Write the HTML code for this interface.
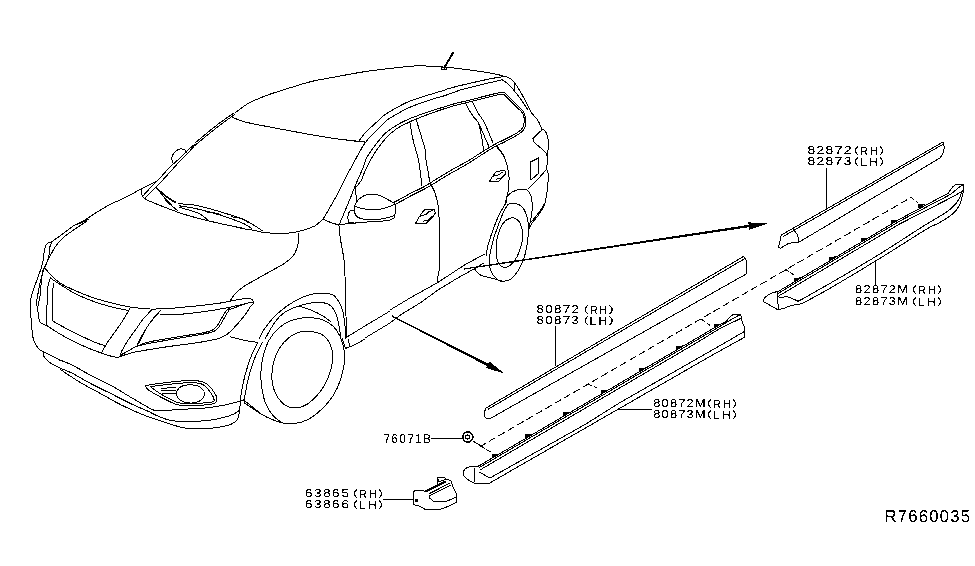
<!DOCTYPE html>
<html><head><meta charset="utf-8"><title>Body side moulding diagram</title>
<style>
html,body{margin:0;padding:0;background:#fff;}
body{width:975px;height:566px;overflow:hidden;position:relative;font-family:"Liberation Sans","DejaVu Sans",sans-serif;}
svg{position:absolute;left:0;top:0;display:block;}
svg path{fill:none;stroke:#000;stroke-width:1.0;stroke-linecap:round;stroke-linejoin:round;shape-rendering:crispEdges;}

</style></head><body>
<svg width="975" height="566" viewBox="0 0 975 566">
<path d="M235.0 113.0C237.2 111.4 243.0 106.4 248.0 103.6C253.0 100.8 258.8 98.4 265.0 96.0C271.2 93.6 277.3 91.8 285.0 89.4C292.7 87.0 302.7 83.7 311.0 81.6C319.3 79.5 326.0 78.7 335.0 77.0C344.0 75.3 355.8 73.0 365.0 71.6C374.2 70.2 385.8 68.9 390.0 68.4"/>
<path d="M390.0 68.4C394.0 68.0 407.3 66.4 414.0 66.0C420.7 65.6 424.0 65.9 430.0 66.2C436.0 66.5 443.3 67.0 450.0 67.6C456.7 68.2 463.3 69.1 470.0 70.0C476.7 70.9 484.7 72.1 490.0 73.0C495.3 73.9 498.7 74.7 502.0 75.6C505.3 76.5 508.1 77.4 510.0 78.4C511.9 79.4 511.9 79.5 513.6 81.6C515.3 83.7 517.8 87.3 520.0 91.0C522.2 94.7 525.1 100.3 527.0 104.0C528.9 107.7 530.8 111.5 531.6 113.0"/>
<path d="M502.0 79.6C503.0 80.3 506.0 82.2 508.0 84.0C510.0 85.8 511.7 87.6 514.0 90.4C516.3 93.2 519.7 97.7 522.0 101.0C524.3 104.3 527.0 108.5 528.0 110.0"/>
<path d="M514.0 82.0L514.6 90.0"/>
<path d="M444.4 67.6L453.0 52.8" style="stroke-width:2"/>
<path d="M441.6 67.6L446.4 67.6L446.4 69.6L441.6 69.6Z"/>
<path d="M445.0 89.6C447.5 88.9 454.2 87.0 460.0 85.6C465.8 84.2 473.7 82.4 480.0 81.0C486.3 79.6 493.8 78.1 498.0 77.4C502.2 76.7 503.8 76.7 505.0 76.6"/>
<path d="M460.0 90.0C461.7 89.6 465.0 88.6 470.0 87.4C475.0 86.2 484.5 83.9 490.0 82.6C495.5 81.3 500.8 80.1 503.0 79.6"/>
<path d="M359.2 140.7C360.1 139.5 362.0 136.3 364.7 133.3C367.5 130.3 372.4 126.0 375.9 122.8C379.4 119.6 380.6 117.5 385.8 114.1C390.9 110.7 400.0 105.5 406.8 102.4C413.6 99.3 420.2 97.6 426.6 95.6C433.0 93.5 442.1 90.9 445.2 90.0"/>
<path d="M340.0 139.2C342.3 139.5 349.4 140.5 353.6 141.0C357.8 141.4 363.4 141.8 365.4 142.0"/>
<path d="M409.9 122.4C410.4 125.3 411.5 133.2 413.0 139.5C414.4 145.7 417.6 156.5 418.6 159.9"/>
<path d="M416.1 119.4C416.8 121.8 418.9 128.1 420.4 133.3C422.0 138.5 424.4 146.2 425.4 150.6C426.3 155.1 425.9 158.4 426.0 159.9"/>
<path d="M74.0 225.4C75.7 224.6 80.7 222.5 84.0 220.6C87.3 218.7 90.7 216.1 94.0 214.0C97.3 211.9 101.0 209.8 104.0 208.0C107.0 206.2 109.3 204.7 112.0 203.4C114.7 202.1 117.0 201.4 120.0 200.0C123.0 198.6 126.5 196.8 130.0 195.0C133.5 193.2 137.7 190.7 141.0 189.0C144.3 187.3 147.2 186.0 150.0 184.6C152.8 183.2 156.7 181.3 158.0 180.6"/>
<path d="M75.6 224.6C76.7 224.3 79.8 223.5 82.0 222.6C84.2 221.7 87.8 219.6 89.0 219.0"/>
<path d="M142.4 196.6C144.0 194.8 149.1 189.1 152.0 186.0C154.9 182.9 157.0 181.2 160.0 178.0C163.0 174.8 166.7 170.3 170.0 167.0C173.3 163.7 177.0 160.8 180.0 158.0C183.0 155.2 185.5 152.3 188.0 150.0C190.5 147.7 193.8 145.0 195.0 144.0"/>
<path d="M144.8 198.6C146.5 196.8 151.8 191.1 154.8 188.0C157.8 184.9 159.8 183.2 162.8 180.0C165.8 176.8 169.8 172.3 172.8 169.0C175.8 165.7 178.1 162.8 180.8 160.0C183.5 157.2 186.6 154.2 188.8 152.0C191.0 149.8 193.0 147.5 193.8 146.6"/>
<path d="M172.4 163.0C172.3 162.0 171.6 158.8 172.0 157.0C172.4 155.2 173.7 153.3 175.0 152.0C176.3 150.7 178.3 149.3 180.0 149.0C181.7 148.7 183.9 149.3 185.0 150.0C186.1 150.7 186.2 152.5 186.4 153.0"/>
<path d="M195.0 143.0C197.0 141.3 202.7 136.5 207.0 133.0C211.3 129.5 216.5 125.3 221.0 122.0C225.5 118.7 231.8 114.5 234.0 113.0"/>
<path d="M194.0 146.2C196.3 144.3 203.3 138.4 208.0 134.6C212.7 130.8 217.8 126.7 222.2 123.4C226.6 120.1 232.5 116.1 234.6 114.6"/>
<path d="M232.0 117.0C234.2 117.8 237.8 120.2 245.0 122.0C252.2 123.8 265.0 126.1 275.0 128.0C285.0 129.9 295.0 131.8 305.0 133.6C315.0 135.4 325.8 137.3 335.0 138.6C344.2 139.9 355.8 140.9 360.0 141.4"/>
<path d="M365.0 142.6C364.0 144.3 361.0 149.4 359.0 153.0C357.0 156.6 355.3 159.7 353.0 164.0C350.7 168.3 347.7 173.8 345.0 179.0C342.3 184.2 339.7 190.0 337.0 195.0C334.3 200.0 331.3 205.0 329.0 209.0C326.7 213.0 325.3 216.2 323.0 219.0C320.7 221.8 316.3 224.8 315.0 226.0"/>
<path d="M355.0 186.0C354.2 188.2 351.7 194.8 350.0 199.0C348.3 203.2 346.8 206.7 345.0 211.0C343.2 215.3 340.0 222.7 339.0 225.0"/>
<path d="M323.0 219.0C324.3 219.6 328.3 221.6 331.0 222.6C333.7 223.6 337.7 224.6 339.0 225.0"/>
<path d="M495.9 145.1C496.8 146.2 499.5 149.1 501.0 151.3C502.6 153.4 504.4 156.8 505.1 157.9"/>
<path d="M531.6 113.0C532.6 114.3 536.2 117.7 537.9 120.5C539.7 123.3 541.4 128.2 542.1 129.7"/>
<path d="M542.1 129.7L532.8 138.5L533.8 142.1L541.0 148.2L546.7 153.8"/>
<path d="M542.1 129.7C542.6 129.9 544.3 129.7 545.1 130.8C546.0 131.8 546.6 133.7 547.2 135.9C547.8 138.1 548.7 141.2 548.7 144.1C548.8 147.0 547.7 151.0 547.4 153.3C547.1 155.6 547.0 157.2 547.0 157.9"/>
<path d="M418.6 160.0C418.9 162.2 419.8 168.7 420.4 173.0C421.0 177.3 421.7 183.8 422.0 186.0"/>
<path d="M426.0 160.0C426.3 161.8 427.3 167.3 428.0 171.0C428.7 174.7 428.8 178.3 430.0 182.0C431.2 185.7 433.7 189.2 435.0 193.0C436.3 196.8 437.3 201.0 438.0 205.0C438.7 209.0 438.7 213.5 439.0 217.0C439.3 220.5 439.5 224.5 439.6 226.0"/>
<path d="M496.0 146.0C497.2 147.5 501.2 151.8 503.0 155.0C504.8 158.2 506.0 161.3 507.0 165.0C508.0 168.7 508.8 173.0 509.0 177.0C509.2 181.0 508.7 185.7 508.4 189.0C508.1 192.3 507.6 194.7 507.0 197.0C506.4 199.3 505.3 202.0 505.0 203.0"/>
<path d="M530.6 162.0L538.4 158.0L539.0 173.0L531.0 180.0Z"/>
<path d="M546.4 153.0C546.7 154.3 548.0 158.7 548.0 161.0C548.0 163.3 546.4 165.0 546.4 167.0C546.4 169.0 547.7 171.7 548.0 173.0C548.3 174.3 548.3 174.7 548.4 175.0"/>
<path d="M546.0 170.0C544.7 171.5 541.0 175.8 538.0 179.0C535.0 182.2 529.7 187.3 528.0 189.0"/>
<path d="M44.0 267.0C45.0 268.2 47.3 271.3 50.0 274.0C52.7 276.7 55.7 280.2 60.0 283.0C64.3 285.8 70.3 288.5 76.0 291.0C81.7 293.5 88.0 296.0 94.0 298.0C100.0 300.0 106.0 301.5 112.0 303.0C118.0 304.5 123.7 306.0 130.0 307.0C136.3 308.0 143.3 308.8 150.0 309.0C156.7 309.2 162.5 308.9 170.0 308.4C177.5 307.9 190.8 306.4 195.0 306.0"/>
<path d="M51.0 278.4C52.5 279.4 55.8 281.8 60.0 284.4C64.2 287.0 70.3 291.1 76.0 294.0C81.7 296.9 88.0 299.4 94.0 301.6C100.0 303.8 106.3 305.5 112.0 307.0C117.7 308.5 125.3 309.8 128.0 310.4"/>
<path d="M50.4 277.6C50.0 279.0 48.5 283.9 48.0 286.0C47.5 288.1 47.8 286.8 47.6 290.0C47.4 293.2 47.2 299.5 47.0 305.4C46.8 311.3 46.5 322.1 46.4 325.4"/>
<path d="M54.0 283.0C53.8 284.2 53.0 286.3 52.8 290.0C52.6 293.7 52.7 300.3 52.6 305.4C52.5 310.5 52.4 318.2 52.4 320.8"/>
<path d="M32.0 330.0C32.1 331.0 32.1 333.8 32.6 336.2C33.2 338.5 34.3 341.7 35.4 343.8C36.5 346.0 37.9 347.9 39.2 349.2C40.5 350.5 42.4 351.2 43.1 351.5"/>
<path d="M46.5 325.4C48.5 326.7 53.9 330.4 58.5 333.1C63.0 335.8 68.7 339.0 73.8 341.5C79.0 344.1 84.6 346.5 89.2 348.5C93.8 350.4 97.7 351.7 101.5 353.1C105.4 354.4 109.5 355.8 112.3 356.5C115.1 357.2 116.9 357.5 118.5 357.2C120.0 356.9 121.0 355.1 121.5 354.6"/>
<path d="M52.3 320.8C54.6 322.1 61.3 325.9 66.2 328.5C71.0 331.0 76.4 333.7 81.5 336.2C86.7 338.6 92.9 341.5 96.9 343.1C100.9 344.7 104.0 345.3 105.4 345.7"/>
<path d="M130.0 308.2C129.1 309.7 126.5 314.6 124.6 317.7C122.7 320.8 120.8 323.6 118.5 326.9C116.2 330.3 112.9 334.6 110.8 337.7C108.6 340.8 106.9 343.1 105.4 345.7C103.8 348.3 102.2 351.8 101.5 353.1"/>
<path d="M152.3 309.2C150.8 310.9 145.9 315.8 143.1 319.2C140.3 322.7 137.9 326.4 135.4 330.0C132.8 333.6 130.0 337.2 127.7 340.8C125.4 344.4 122.8 348.8 121.5 351.5C120.3 354.2 120.3 356.0 120.0 356.9"/>
<path d="M160.8 310.0C159.6 311.3 156.3 314.6 153.8 317.7C151.4 320.8 148.5 324.9 146.2 328.5C143.8 332.1 141.5 336.3 140.0 339.2C138.5 342.2 137.4 345.0 136.9 346.2"/>
<path d="M158.5 313.1C156.9 314.9 151.8 320.3 149.2 323.8C146.7 327.4 144.9 331.3 143.1 334.6C141.3 337.9 139.2 342.3 138.5 343.8"/>
<path d="M121.5 354.6C123.6 353.5 131.3 349.1 133.8 347.7C136.4 346.3 136.4 346.4 136.9 346.2"/>
<path d="M43.1 351.5C44.4 352.2 48.0 354.0 50.8 355.4C53.5 356.8 58.1 359.2 59.5 360.0"/>
<path d="M43.1 351.5C43.2 352.3 43.1 354.6 43.8 356.2C44.6 357.7 46.2 359.4 47.7 360.8C49.2 362.2 51.1 363.5 53.1 364.6C55.1 365.8 58.5 367.2 59.5 367.7"/>
<path d="M60.0 360.0C62.1 360.9 67.2 362.6 72.3 365.1C77.4 367.7 84.3 372.0 90.8 375.4C97.3 378.8 104.4 381.9 111.3 385.6C118.1 389.4 126.0 394.5 131.8 397.9C137.6 401.4 142.4 404.1 146.2 406.2C149.9 408.2 150.9 409.6 154.4 410.3C157.8 410.9 161.9 410.4 166.7 410.3C171.5 410.1 176.9 409.6 183.1 409.2C189.2 408.9 196.8 408.9 203.6 408.2C210.4 407.5 218.6 406.2 224.1 405.1C229.6 404.1 233.3 402.9 236.4 402.1C239.5 401.2 241.5 400.3 242.6 400.0"/>
<path d="M60.0 368.2C62.1 369.1 67.2 370.8 72.3 373.3C77.4 375.9 84.3 380.2 90.8 383.6C97.3 387.0 104.4 390.4 111.3 393.8C118.1 397.3 125.6 401.2 131.8 404.1C137.9 407.0 144.1 409.4 148.2 411.3C152.3 413.2 152.6 413.8 156.4 415.4C160.2 416.9 165.6 419.5 170.8 420.5C175.9 421.5 181.0 421.5 187.2 421.5C193.3 421.5 201.5 421.2 207.7 420.5C213.8 419.8 219.7 418.6 224.1 417.4C228.5 416.3 231.8 414.9 234.4 413.7C236.9 412.5 238.6 410.8 239.5 410.3"/>
<path d="M60.0 369.2C63.4 371.5 73.7 378.5 80.5 382.6C87.4 386.7 94.2 390.1 101.0 393.8C107.9 397.6 114.7 401.7 121.5 405.1C128.4 408.5 135.2 411.6 142.1 414.4C148.9 417.1 155.7 419.3 162.6 421.5C169.4 423.8 176.9 426.5 183.1 427.7C189.2 428.9 194.0 428.7 199.5 428.7C205.0 428.7 210.8 428.4 215.9 427.7C221.0 427.0 226.7 426.0 230.3 424.6C233.8 423.2 235.9 421.7 237.4 419.5C239.0 417.3 239.0 414.4 239.5 411.3C240.0 408.2 240.3 402.7 240.5 401.0"/>
<path d="M145.1 385.6C148.0 385.2 156.2 383.8 162.6 383.0C168.9 382.2 176.9 381.2 183.1 380.9C189.2 380.6 195.4 380.5 199.5 381.1C203.6 381.7 205.3 382.8 207.7 384.6C210.1 386.4 212.3 389.6 213.8 391.8C215.4 394.0 216.6 396.2 216.9 397.9C217.3 399.7 216.8 401.0 215.9 402.1C215.0 403.1 215.6 403.5 211.8 404.1C208.0 404.7 198.8 405.4 193.3 405.5C187.9 405.7 182.7 405.7 179.0 405.1C175.2 404.5 174.2 403.6 170.8 402.1C167.4 400.5 162.2 397.9 158.5 395.9C154.7 393.8 150.4 391.5 148.2 389.7C146.0 388.0 145.6 386.3 145.1 385.6Z"/>
<path d="M150.3 386.7C153.0 386.3 161.2 385.2 166.7 384.6C172.1 384.0 177.9 383.2 183.1 383.0C188.2 382.7 193.8 382.5 197.4 383.0C201.0 383.4 202.4 384.0 204.6 385.6C206.8 387.3 209.2 390.7 210.8 392.8C212.3 395.0 213.7 397.0 213.8 398.6C214.0 400.1 215.2 401.2 211.8 402.1C208.4 402.9 198.6 403.3 193.3 403.5C188.0 403.7 183.4 403.6 180.0 403.1C176.6 402.6 176.1 402.2 172.8 400.6C169.6 399.1 164.3 396.2 160.5 393.8C156.8 391.5 152.0 387.9 150.3 386.7Z"/>
<path d="M190.3 384.6C191.8 385.0 197.1 385.1 199.5 386.7C201.9 388.2 204.6 391.5 204.6 393.8C204.6 396.2 201.9 399.5 199.5 401.0C197.1 402.6 193.3 403.1 190.3 403.1C187.2 403.0 183.3 402.2 181.0 400.6C178.7 399.1 176.5 396.2 176.5 393.8C176.5 391.5 178.7 388.2 181.0 386.7C183.3 385.1 188.7 385.0 190.3 384.6Z"/>
<path d="M161.5 388.3L175.9 387.5"/>
<path d="M161.5 390.8L175.9 390.4"/>
<path d="M162.6 393.2L176.5 393.2"/>
<path d="M243.6 400.0C245.1 401.2 250.1 405.0 252.8 407.2C255.6 409.4 258.8 412.3 260.0 413.3"/>
<path d="M232.0 226.0C234.2 226.5 241.2 228.3 245.0 229.0C248.8 229.7 252.3 229.9 255.0 230.4C257.7 230.9 257.7 231.5 261.0 232.0C264.3 232.5 270.3 233.2 275.0 233.4C279.7 233.6 284.3 233.5 289.0 233.0C293.7 232.5 298.7 231.6 303.0 230.4C307.3 229.2 313.0 226.7 315.0 226.0"/>
<path d="M298.0 233.0C298.1 234.2 298.8 237.5 298.6 240.0C298.4 242.5 297.9 245.3 297.0 248.0C296.1 250.7 295.0 253.5 293.0 256.0C291.0 258.5 288.7 260.5 285.0 263.0C281.3 265.5 276.0 268.2 271.0 271.0C266.0 273.8 259.7 277.3 255.0 280.0C250.3 282.7 246.3 284.7 243.0 287.0C239.7 289.3 237.2 291.7 235.0 294.0C232.8 296.3 230.8 299.8 230.0 301.0"/>
<path d="M339.4 226.0C339.5 227.7 339.6 232.3 340.0 236.0C340.4 239.7 341.3 244.0 342.0 248.0C342.7 252.0 343.5 255.3 344.0 260.0C344.5 264.7 344.8 270.0 345.0 276.0C345.2 282.0 345.2 289.3 345.4 296.0C345.6 302.7 345.8 309.0 346.0 316.0C346.2 323.0 346.5 334.3 346.6 338.0"/>
<path d="M259.0 339.0C260.0 337.2 262.3 331.8 265.0 328.0C267.7 324.2 271.3 319.7 275.0 316.0C278.7 312.3 283.0 308.8 287.0 306.0C291.0 303.2 295.0 300.9 299.0 299.0C303.0 297.1 307.0 295.3 311.0 294.4C315.0 293.5 319.3 293.3 323.0 293.4C326.7 293.5 330.3 293.6 333.0 295.0C335.7 296.4 337.3 299.2 339.0 302.0C340.7 304.8 342.0 308.0 343.0 312.0C344.0 316.0 344.5 321.5 345.0 326.0C345.5 330.5 345.8 336.8 346.0 339.0"/>
<path d="M265.0 339.0C266.7 336.2 271.7 326.5 275.0 322.0C278.3 317.5 281.0 314.7 285.0 312.0C289.0 309.3 294.7 307.5 299.0 306.0C303.3 304.5 307.0 303.6 311.0 303.0C315.0 302.4 319.7 302.1 323.0 302.6C326.3 303.1 328.8 304.1 331.0 306.0C333.2 307.9 334.7 310.7 336.0 314.0C337.3 317.3 338.2 322.0 339.0 326.0C339.8 330.0 340.7 336.0 341.0 338.0"/>
<path d="M299.0 306.0C301.0 306.7 307.0 308.3 311.0 310.0C315.0 311.7 319.7 314.0 323.0 316.0C326.3 318.0 329.7 321.0 331.0 322.0"/>
<path d="M347.0 337.0C350.0 335.2 357.8 330.3 365.0 326.0C372.2 321.7 385.8 313.5 390.0 311.0"/>
<path d="M365.0 338.0 L390.0 323.0"/>
<path d="M308.1 331.0C310.4 331.6 318.2 332.3 321.9 334.5C325.5 336.6 328.1 340.2 329.9 343.6C331.7 347.1 332.5 350.9 332.7 355.1C332.9 359.3 332.3 364.1 331.1 368.9C329.8 373.7 327.8 379.2 325.3 383.8C322.8 388.4 319.6 392.8 316.1 396.5C312.7 400.1 308.5 403.7 304.6 405.6C300.8 407.6 296.8 408.3 293.2 407.9C289.5 407.6 285.9 406.0 282.8 403.4C279.8 400.7 276.6 396.1 274.8 391.9C272.9 387.7 272.0 383.1 271.8 378.1C271.6 373.1 272.4 367.0 273.6 362.0C274.9 357.0 276.9 352.3 279.4 348.2C281.9 344.2 285.3 340.6 288.6 337.9C291.8 335.2 295.6 333.3 298.9 332.2C302.2 331.0 306.6 331.2 308.1 331.0Z"/>
<path d="M305.8 317.2C308.5 317.6 317.3 318.0 321.9 319.5C326.5 321.1 330.3 323.5 333.4 326.4C336.4 329.3 338.4 332.7 340.2 336.7C342.0 340.8 343.5 345.9 344.1 350.5C344.8 355.1 344.8 359.3 344.1 364.3C343.5 369.3 342.0 375.2 340.2 380.4C338.4 385.6 336.4 390.5 333.4 395.3C330.3 400.1 326.1 405.1 321.9 409.1C317.7 413.1 312.7 417.0 308.1 419.4C303.5 421.8 298.5 423.0 294.3 423.6C290.1 424.1 286.5 424.3 282.8 422.9C279.2 421.4 275.4 418.1 272.5 414.8C269.6 411.6 267.4 407.9 265.6 403.4C263.8 398.8 262.5 392.6 261.7 387.3C260.9 381.9 260.7 376.6 261.0 371.2C261.3 365.8 262.0 360.3 263.3 355.1C264.6 350.0 266.6 344.6 269.0 340.2C271.5 335.8 274.8 331.9 278.2 328.7C281.7 325.5 285.1 323.0 289.7 321.1C294.3 319.2 303.1 317.9 305.8 317.2Z"/>
<path d="M257.6 342.5C256.4 345.0 252.8 351.9 250.7 357.4C248.6 363.0 246.5 370.1 244.9 375.8C243.4 381.5 242.2 387.7 241.5 391.9C240.7 396.1 240.5 399.5 240.3 401.1"/>
<path d="M262.2 342.5C260.8 345.4 256.4 353.8 254.1 359.7C251.8 365.6 249.8 372.7 248.4 378.1C247.0 383.4 246.3 388.0 245.6 391.9C244.9 395.7 244.4 399.1 244.2 401.1C244.1 403.0 244.8 403.0 244.9 403.4"/>
<path d="M244.9 403.4C246.7 404.5 251.6 407.9 255.3 410.2C258.9 412.5 262.9 415.2 266.7 417.1C270.6 419.0 274.8 420.6 278.2 421.7C281.7 422.9 285.9 423.6 287.4 424.0"/>
<path d="M230.0 336.7C232.3 337.3 239.2 339.2 243.8 340.2C248.4 341.1 255.3 342.1 257.6 342.5"/>
<path d="M342.6 339.0C342.8 339.8 343.5 342.4 344.0 344.0C344.5 345.6 345.2 347.7 345.4 348.4"/>
<path d="M345.4 348.4C347.0 347.8 351.7 346.2 355.0 344.6C358.3 343.0 363.3 339.9 365.0 339.0"/>
<path d="M348.6 339.0 L349.4 346.0"/>
<path d="M194.9 306.2C199.1 305.6 212.5 304.2 220.0 303.1C227.5 301.9 235.1 300.0 240.0 299.2C244.9 298.5 247.1 298.3 249.2 298.5C251.3 298.6 251.9 299.2 252.6 300.0C253.3 300.8 253.8 302.1 253.5 303.1C253.2 304.1 251.2 305.6 250.8 306.2"/>
<path d="M160.3 314.6C163.8 314.5 174.2 314.7 181.5 314.2C188.9 313.6 196.9 312.6 204.6 311.5C212.3 310.5 220.5 309.1 227.7 307.7C234.9 306.3 243.5 304.0 247.7 303.1C251.9 302.1 252.2 302.2 253.1 302.0"/>
<path d="M136.9 346.2C139.2 345.6 143.3 344.5 150.8 343.1C158.2 341.7 172.6 339.2 181.5 337.7C190.5 336.2 199.2 334.9 204.6 333.8C210.0 332.8 211.5 332.6 213.8 331.5C216.2 330.5 216.9 329.6 218.5 327.7C220.0 325.8 221.5 322.6 223.1 320.0C224.6 317.4 226.4 314.1 227.7 312.3C229.0 310.5 227.4 310.8 230.8 309.2C234.1 307.7 244.9 304.1 247.7 303.1"/>
<path d="M140.0 344.6C141.8 344.1 143.8 342.9 150.8 341.5C157.7 340.2 172.6 337.8 181.5 336.3C190.5 334.8 199.5 333.5 204.6 332.5C209.7 331.4 210.3 331.1 212.3 330.2C214.3 329.2 215.1 328.5 216.6 326.6C218.1 324.7 219.7 321.5 221.2 318.9C222.8 316.4 224.4 313.0 225.8 311.2C227.3 309.4 229.3 308.7 230.0 308.2"/>
<path d="M120.0 356.5C122.6 355.7 127.7 353.6 135.4 352.0C143.1 350.4 157.2 348.3 166.2 346.9C175.1 345.6 182.8 344.7 189.2 343.8C195.6 342.9 199.7 342.4 204.6 341.5C209.5 340.6 214.6 339.7 218.5 338.5C222.3 337.2 224.6 336.2 227.7 333.8C230.8 331.5 234.1 327.7 236.9 324.6C239.7 321.5 242.3 318.5 244.6 315.4C246.9 312.3 249.7 307.7 250.8 306.2"/>
<path d="M464.1 269.6L751.2 226.9L750.8 224.5L463.9 268.4Z" style="fill:#000;stroke:none"/>
<path d="M768.2 223.2L748.2 222.4L749.4 229.9Z" style="fill:#000;stroke:none"/>
<path d="M391.7 316.6L488.4 366.7L489.6 364.5L392.3 315.4Z" style="fill:#000;stroke:none"/>
<path d="M504.0 373.3L489.4 361.6L486.0 368.0Z" style="fill:#000;stroke:none"/>
<path d="M555.6 326.0L555.6 366.0"/>
<path d="M826.6 168.0L826.6 207.5"/>
<path d="M875.6 261.0L875.6 286.0"/>
<path d="M618.0 409.4L652.0 409.4"/>
<path d="M431.0 438.4L462.5 438.4"/>
<path d="M383.6 499.4L413.5 499.4"/>
<path d="M486.0 408.0L743.5 256.5"/>
<path d="M488.5 409.0L745.0 258.5"/>
<path d="M492.0 417.5L746.2 274.0"/>
<path d="M486.0 408.0C485.7 408.8 484.4 411.4 484.3 413.0C484.2 414.6 484.6 416.5 485.2 417.5C485.8 418.5 486.9 419.0 488.0 419.0C489.1 419.0 491.3 417.8 492.0 417.5"/>
<path d="M743.5 256.5C743.9 257.1 745.5 258.1 746.0 260.0C746.5 261.9 746.6 265.7 746.6 268.0C746.6 270.3 746.3 273.0 746.2 274.0"/>
<path d="M479.8 446.7L911.0 197.4" style="stroke-dasharray:7.3 3.5;stroke-linecap:butt"/>
<path d="M473.0 441.0L481.0 446.0"/>
<path d="M481.0 446.0L492.0 453.0" style="stroke-dasharray:4 3"/>
<path d="M588.0 384.0L597.0 388.0" style="stroke-dasharray:4 3"/>
<path d="M701.0 319.0L711.0 326.0" style="stroke-dasharray:4 3"/>
<path d="M785.0 269.0L794.0 275.0" style="stroke-dasharray:4 3"/>
<path d="M911.0 197.4L918.0 203.0" style="stroke-dasharray:4 3"/>
<path d="M478.0 466.4L719.0 325.1L725.8 321.9L728.7 318.5L731.6 315.5L733.6 314.4L740.9 314.4"/>
<path d="M479.5 467.4L722.0 325.2L730.0 320.3L737.0 316.3L740.9 314.4"/>
<path d="M481.0 469.4L700.0 340.8L714.2 332.0L723.9 326.4L733.6 321.9L740.6 318.5"/>
<path d="M490.0 478.0L585.0 424.5L620.0 402.6L704.4 354.5L744.3 331.6"/>
<path d="M488.0 484.0L713.2 354.6L744.3 337.4"/>
<path d="M740.9 314.4L741.2 319.4L743.3 324.3L744.5 327.2L744.3 332.0L744.3 337.4"/>
<path d="M478.0 466.4C476.8 466.4 473.2 466.0 471.0 466.4C468.8 466.8 466.3 467.7 465.0 469.0C463.7 470.3 462.8 472.5 463.0 474.0C463.2 475.5 464.2 476.5 466.0 478.0C467.8 479.5 470.3 482.0 474.0 483.0C477.7 484.0 485.7 483.8 488.0 484.0"/>
<path d="M474.0 468.0L475.0 482.0"/>
<path d="M479.0 472.0L490.0 478.0"/>
<path d="M491.5 458.8L491.5 454.3L499.0 453.7L499.0 454.4Z" style="fill:#000;stroke:none"/>
<path d="M525.4 438.9L525.4 434.4L532.9 433.8L532.9 434.5Z" style="fill:#000;stroke:none"/>
<path d="M563.1 416.8L563.1 412.3L570.6 411.7L570.6 412.4Z" style="fill:#000;stroke:none"/>
<path d="M600.8 394.7L600.8 390.2L608.3 389.6L608.3 390.3Z" style="fill:#000;stroke:none"/>
<path d="M638.5 372.6L638.5 368.1L646.0 367.4L646.0 368.1Z" style="fill:#000;stroke:none"/>
<path d="M676.2 350.5L676.2 346.0L683.7 345.3L683.7 346.0Z" style="fill:#000;stroke:none"/>
<path d="M713.5 328.6L713.5 324.1L721.0 323.5L721.0 324.2Z" style="fill:#000;stroke:none"/>
<path d="M781.3 235.0L943.0 142.0"/>
<path d="M783.5 236.3L943.5 144.0"/>
<path d="M798.6 242.4L940.0 158.0"/>
<path d="M943.0 142.0C943.2 142.8 944.2 145.2 944.2 147.0C944.2 148.8 943.9 151.2 943.2 153.0C942.5 154.8 940.5 157.2 940.0 158.0"/>
<path d="M781.3 235.0L779.7 242.4L778.5 247.4L780.5 248.2L788.7 243.2L798.6 242.4"/>
<path d="M792.8 229.0C793.5 229.9 796.0 232.5 797.0 234.2C798.0 235.9 798.3 237.6 798.6 239.0C798.9 240.4 798.6 241.8 798.6 242.4"/>
<path d="M777.0 292.2L900.0 219.0L948.6 193.0L950.5 189.6L953.4 186.2L956.4 184.2L963.7 184.2"/>
<path d="M777.8 293.6L900.0 220.9L950.5 194.4L956.4 189.6L960.3 186.2L963.2 184.7"/>
<path d="M778.2 296.3L900.0 223.8L951.5 197.4L958.3 193.5L963.2 190.5"/>
<path d="M779.4 309.3C780.2 309.1 782.3 308.8 784.4 308.1C786.5 307.4 789.3 305.9 791.8 305.3C794.3 304.7 797.1 304.9 799.2 304.4C801.3 303.9 801.3 303.9 804.2 302.5C807.1 301.1 812.2 298.1 816.5 295.7C820.8 293.3 820.1 294.1 830.0 288.3C839.9 282.5 859.7 270.7 875.6 261.0C891.5 251.3 915.1 236.1 925.3 229.9C935.5 223.7 933.8 225.6 936.9 224.0C940.0 222.4 941.4 221.6 943.7 220.2C946.0 218.8 948.4 217.3 950.5 215.6C952.6 213.9 954.8 212.1 956.4 210.0C958.0 207.9 959.3 205.6 960.3 203.2C961.3 200.8 961.8 197.5 962.4 195.4C963.0 193.3 963.5 192.4 963.7 190.5C963.9 188.6 963.7 185.2 963.7 184.2"/>
<path d="M779.4 297.6C780.9 297.5 785.2 296.5 788.1 297.0C791.0 297.5 794.9 299.9 796.7 300.5C798.6 301.1 796.9 301.7 799.2 300.7C801.5 299.7 805.2 297.4 810.3 294.5C815.4 291.6 819.2 289.6 830.0 283.4C840.8 277.1 860.4 265.9 875.0 257.0C889.6 248.1 908.5 235.6 917.5 229.9C926.5 224.2 925.6 224.8 929.2 222.6C932.8 220.4 935.7 218.8 938.9 216.8C942.1 214.8 945.9 212.7 948.6 210.6C951.4 208.5 953.6 206.2 955.4 204.2C957.2 202.1 958.2 200.2 959.3 198.3C960.3 196.4 961.3 193.5 961.7 192.5"/>
<path d="M777.0 291.6L770.8 293.3L766.0 296.5L763.4 299.4L764.0 301.9L778.2 310.0L779.4 309.3"/>
<path d="M777.6 292.0L778.2 310.0"/>
<path d="M794.0 282.4L794.0 277.9L801.5 277.3L801.5 278.0Z" style="fill:#000;stroke:none"/>
<path d="M829.3 261.4L829.3 256.9L836.8 256.3L836.8 257.0Z" style="fill:#000;stroke:none"/>
<path d="M860.8 242.6L860.8 238.1L868.3 237.5L868.3 238.2Z" style="fill:#000;stroke:none"/>
<path d="M891.0 224.7L891.0 220.2L898.5 219.5L898.5 220.2Z" style="fill:#000;stroke:none"/>
<path d="M918.0 208.6L918.0 204.1L925.5 203.5L925.5 204.2Z" style="fill:#000;stroke:none"/>
<path d="M474.0 268.4C475.1 269.6 477.9 273.6 480.8 275.2C483.7 276.8 487.9 277.2 491.5 278.1C495.1 279.1 500.4 280.6 502.2 281.0"/>
<path d="M439.6 226.0C439.7 229.3 440.0 239.3 440.0 246.0C440.0 252.7 439.9 261.0 439.6 266.0C439.3 271.0 438.4 273.2 438.0 276.0C437.6 278.8 437.2 281.8 437.0 283.0"/>
<path d="M390.0 310.0L410.0 298.0L437.0 283.0L466.0 264.0L485.0 254.0"/>
<path d="M390.0 323.0L402.0 314.0L420.0 303.0L438.0 290.0L456.0 279.0L472.0 270.0L484.0 263.0"/>
<path d="M413.3 492.2L415.4 490.1L421.5 490.1L425.6 491.7L428.7 490.1L437.9 484.5L437.4 478.3L437.9 477.3L444.1 477.3L446.2 479.4L450.3 480.2L451.3 481.4L453.3 487.6L455.9 492.7L456.6 496.8L456.9 501.9L451.3 505.0L445.1 507.6L439.0 509.6L425.6 509.6L420.5 506.5L413.3 504.5Z"/>
<path d="M426.2 491.2L445.1 481.9" style="stroke-width:2.2"/>
<path d="M429.2 493.7L449.2 483.5"/>
<path d="M429.7 495.8L450.3 485.5"/>
<path d="M429.7 495.8L429.2 497.8L433.8 501.4L445.1 501.9L455.9 497.3"/>
<path d="M437.7 478.1L439.2 481.9L445.1 479.4"/>
<path d="M415.4 499.4L417.6 499.4L417.6 501.7L415.4 501.7Z" style="fill:#000"/>
<path d="M355.4 204.0C355.9 203.3 356.9 201.1 358.5 199.7C360.0 198.2 362.6 196.3 364.6 195.4C366.7 194.4 368.4 194.1 370.8 194.1C373.3 194.1 376.8 194.5 379.5 195.4C382.2 196.2 384.4 197.8 386.9 199.1C389.4 200.4 393.1 202.5 394.3 203.2"/>
<path d="M354.7 205.9C355.8 206.3 358.2 207.7 360.9 208.4C363.6 209.0 367.7 209.4 370.8 209.6C373.9 209.8 376.6 209.8 379.5 209.3C382.4 208.9 385.6 208.0 388.1 207.1C390.7 206.2 393.8 204.5 395.0 204.0"/>
<path d="M355.4 204.0C355.2 204.5 354.6 205.7 354.5 207.1C354.4 208.6 354.4 211.1 354.7 212.7C355.1 214.2 355.4 215.4 356.6 216.4C357.8 217.4 359.8 218.3 362.2 218.9C364.5 219.4 367.9 219.7 370.8 219.7C373.7 219.8 376.6 219.6 379.5 219.2C382.4 218.9 385.7 218.3 388.1 217.6C390.6 217.0 393.1 216.1 394.3 215.2C395.6 214.2 395.5 213.9 395.6 212.1C395.7 210.2 395.1 205.4 395.0 204.0"/>
<path d="M395.0 215.2C394.8 215.6 395.3 216.8 394.3 217.6C393.4 218.5 391.9 219.5 389.4 220.1C386.9 220.7 383.2 221.0 379.5 221.3C375.8 221.7 371.2 221.7 367.1 222.0C363.0 222.2 357.8 222.8 354.7 223.0C351.7 223.1 349.6 222.6 348.6 222.6"/>
<path d="M354.7 210.2C354.0 210.3 351.4 210.3 350.4 210.8C349.4 211.3 349.0 212.2 348.6 213.3C348.1 214.4 347.9 216.3 347.9 217.6C347.9 219.0 348.2 220.5 348.6 221.3C348.9 222.2 349.6 222.4 349.8 222.6"/>
<path d="M355.4 186.1L356.0 194.7L356.6 200.3"/>
<path d="M338.7 225.1C340.3 224.8 345.7 223.8 348.6 223.4C351.4 223.1 354.7 223.0 356.0 223.0"/>
<path d="M460.0 102.0C456.5 103.1 446.2 106.2 439.0 108.5C431.8 110.8 423.0 113.6 416.6 116.0C410.2 118.4 405.6 120.2 400.5 123.0C395.4 125.8 389.8 129.4 385.7 133.0C381.6 136.6 378.9 140.5 375.8 144.5C372.7 148.5 369.3 153.0 367.1 157.0C364.9 161.0 364.4 164.7 362.8 168.5C361.2 172.3 358.9 177.0 357.6 180.0C356.3 183.0 355.6 185.4 355.2 186.5"/>
<path d="M460.0 104.0C456.5 105.1 446.2 108.0 439.0 110.5C431.8 113.0 421.6 116.8 416.6 118.8C411.6 120.8 412.5 120.6 409.2 122.2C405.9 123.8 400.7 125.9 396.8 128.6C392.9 131.3 389.0 135.0 385.7 138.5C382.4 142.0 379.5 146.1 377.0 149.6C374.5 153.1 372.7 156.2 370.8 159.5C368.9 162.8 367.2 166.1 365.7 169.5C364.1 172.9 362.6 177.7 361.5 179.9C360.4 182.2 360.2 181.8 359.3 183.0C358.4 184.2 356.6 186.6 356.0 187.3"/>
<path d="M460.0 102.4C463.3 101.6 473.7 99.0 480.0 97.4C486.3 95.8 494.0 93.8 498.0 93.0C502.0 92.2 502.0 91.6 504.0 92.4C506.0 93.2 507.7 95.7 510.0 98.0C512.3 100.3 515.9 103.9 518.0 106.0C520.1 108.1 521.8 109.3 522.9 110.7C524.0 112.1 524.2 112.8 524.7 114.4C525.2 116.0 525.7 118.4 525.8 120.5C525.9 122.6 525.8 125.1 525.1 127.0C524.4 128.9 523.5 130.3 521.6 132.0C519.7 133.7 517.0 135.2 513.8 137.0C510.6 138.8 504.4 142.0 502.5 143.0"/>
<path d="M460.0 104.2C463.3 103.4 473.7 100.8 480.0 99.2C486.3 97.6 494.1 95.6 498.0 94.8C501.9 94.0 501.7 93.6 503.5 94.4C505.3 95.2 506.8 97.4 509.0 99.5C511.2 101.6 514.4 104.9 516.5 107.0C518.6 109.1 520.5 110.5 521.7 112.0C522.9 113.5 523.0 114.3 523.5 115.7C524.0 117.1 524.5 118.6 524.4 120.5C524.3 122.4 523.8 125.2 523.0 127.0C522.2 128.8 521.2 129.9 519.4 131.3C517.6 132.7 515.4 133.8 512.4 135.5C509.3 137.2 503.0 140.2 501.1 141.2"/>
<path d="M465.0 102.0C465.5 103.0 467.0 106.2 468.0 108.0C469.0 109.8 469.9 111.3 471.0 113.0C472.1 114.7 473.2 116.3 474.5 118.0C475.8 119.7 477.4 120.5 478.5 123.1C479.6 125.7 480.3 130.5 481.0 133.8C481.7 137.1 482.2 140.3 482.6 143.1C483.0 145.9 483.4 149.5 483.6 150.8"/>
<path d="M472.4 101.6C472.9 102.7 474.7 106.1 475.6 108.0C476.5 109.9 477.0 111.3 478.0 113.0C479.0 114.7 480.4 116.3 481.5 118.0C482.6 119.7 483.2 120.3 484.6 123.1C486.0 125.9 488.3 131.7 489.7 134.9C491.1 138.2 492.3 141.3 492.8 142.6"/>
<path d="M478.5 123.1C479.0 124.2 480.3 127.0 481.5 129.7C482.7 132.3 484.4 136.2 485.6 139.0C486.8 141.8 488.2 145.0 488.7 146.2"/>
<path d="M508.0 204.1C509.3 204.1 513.5 203.4 515.9 203.8C518.2 204.2 520.5 205.3 522.1 206.8C523.7 208.3 524.7 210.5 525.7 213.0C526.7 215.5 527.6 218.3 528.0 221.8C528.4 225.3 528.5 229.8 528.3 234.2C528.0 238.6 527.4 243.9 526.5 248.3C525.6 252.7 524.5 256.9 523.0 260.7C521.5 264.5 519.8 268.2 517.7 271.3C515.6 274.4 513.1 277.5 510.6 279.2C508.1 280.9 504.8 281.1 502.7 281.3C500.6 281.5 499.9 281.2 498.3 280.1C496.7 279.0 494.4 276.9 493.0 274.8C491.6 272.7 490.4 270.4 489.8 267.7C489.2 265.0 489.2 262.1 489.4 258.9C489.6 255.7 490.4 251.8 491.2 248.3C491.9 244.8 492.7 241.5 493.9 237.7C495.1 233.9 496.8 229.3 498.3 225.3C499.8 221.3 501.1 217.4 502.7 213.9C504.3 210.4 507.1 205.7 508.0 204.1Z"/>
<path d="M512.4 217.4C513.4 218.0 517.0 219.1 518.6 220.9C520.2 222.7 521.1 225.5 521.8 228.0C522.5 230.5 522.9 232.8 522.7 235.9C522.6 239.0 521.9 243.0 520.9 246.5C519.9 250.0 518.4 254.2 516.8 257.1C515.2 260.1 513.4 262.5 511.5 264.2C509.6 265.9 507.2 267.2 505.3 267.4C503.4 267.5 501.4 266.5 500.0 265.1C498.6 263.7 497.6 261.4 496.9 258.9C496.2 256.4 496.0 253.3 496.0 250.1C496.0 246.9 496.2 243.0 496.9 239.5C497.6 236.0 498.6 232.0 500.0 228.9C501.4 225.8 503.2 222.8 505.3 220.9C507.4 219.0 511.2 218.0 512.4 217.4Z"/>
<path d="M507.0 196.2C506.9 197.2 507.4 199.6 506.2 202.4C505.0 205.2 501.9 209.2 500.0 213.0C498.1 216.8 496.3 221.2 494.7 225.3C493.1 229.4 491.5 234.2 490.3 237.7C489.1 241.2 488.4 243.6 487.7 246.5C487.0 249.4 486.5 253.9 486.3 255.4"/>
<path d="M507.0 196.2C507.9 195.5 510.3 193.0 512.4 191.9C514.5 190.8 517.0 189.8 519.4 189.5C521.8 189.2 524.6 188.9 526.5 189.8C528.4 190.7 529.8 192.6 530.7 194.8C531.6 197.0 531.9 200.1 532.1 203.2C532.3 206.2 532.2 209.8 531.9 213.1C531.5 216.4 530.5 220.3 530.0 223.0C529.5 225.7 528.8 228.3 528.6 229.4"/>
<path d="M548.4 175.0C548.3 176.9 548.1 182.8 547.7 186.3C547.4 189.8 546.8 193.4 546.3 196.2C545.8 199.0 545.4 201.3 544.9 203.2C544.4 205.1 544.6 205.4 543.4 207.5C542.2 209.6 539.7 213.4 537.8 216.0C535.9 218.6 533.6 220.8 532.1 223.0C530.6 225.2 529.2 228.3 528.6 229.4"/>
<path d="M544.2 204.0C543.6 205.1 542.1 208.1 540.6 210.3C539.1 212.5 536.5 215.5 535.0 217.4C533.5 219.3 532.0 220.9 531.4 221.6"/>
<path d="M394.3 202.2C395.9 201.3 401.6 198.4 404.2 197.0C406.8 195.6 407.0 195.2 410.0 193.6C413.0 192.0 419.1 189.3 422.4 187.6C425.7 185.9 425.7 185.7 429.8 183.2C433.9 180.7 442.2 175.5 447.1 172.6C452.0 169.7 455.6 167.7 459.4 165.6C463.2 163.5 465.9 162.3 470.0 159.8C474.1 157.3 479.9 153.2 484.1 150.6C488.3 148.0 492.6 145.6 495.4 144.0C498.2 142.4 500.2 141.7 501.1 141.2"/>
<path d="M395.0 204.4C396.5 203.6 401.7 200.9 404.2 199.6C406.7 198.2 407.0 197.9 410.0 196.3C413.0 194.7 418.9 191.9 422.4 190.1C425.9 188.3 426.9 187.8 431.0 185.3C435.1 182.9 442.4 178.2 447.1 175.4C451.8 172.6 455.6 170.7 459.4 168.5C463.2 166.3 465.9 165.0 470.0 162.4C474.1 159.8 479.6 156.0 484.1 153.2C488.6 150.4 493.7 147.3 496.8 145.6C499.9 143.9 501.6 143.4 502.5 143.0"/>
<path d="M74.0 225.4C72.1 226.8 66.0 231.5 62.4 234.1C58.8 236.7 54.9 239.7 52.5 241.2C50.1 242.7 49.3 242.2 48.2 242.9C47.1 243.6 46.4 244.0 45.7 245.4C45.1 246.8 44.7 248.8 44.3 251.1C43.9 253.4 43.8 256.7 43.3 259.5C42.8 262.3 42.1 264.9 41.2 268.0C40.3 271.1 38.9 274.6 37.7 277.9C36.5 281.2 35.2 284.7 34.1 287.8C33.0 290.9 31.9 293.3 31.3 296.3C30.7 299.3 30.4 302.4 30.4 306.0C30.3 309.6 30.7 314.0 31.0 318.0C31.3 322.0 31.8 328.0 32.0 330.0"/>
<path d="M86.4 221.4C84.3 222.8 77.7 227.1 73.7 229.9C69.7 232.7 65.5 235.6 62.4 238.4C59.3 241.2 57.4 243.8 55.3 246.8C53.2 249.9 51.5 253.4 49.7 256.7C47.9 260.0 45.5 265.0 44.7 266.6"/>
<path d="M51.8 241.9C51.5 242.7 50.4 244.6 49.9 246.8C49.4 249.0 49.5 252.7 49.0 255.3C48.5 257.9 47.6 260.0 46.8 262.4C46.0 264.8 44.9 266.8 44.0 269.4C43.1 272.0 42.0 274.8 41.2 277.9C40.4 281.0 39.7 284.6 39.1 287.8C38.5 291.0 37.8 294.6 37.4 297.0C37.0 299.4 36.5 299.5 36.6 302.0C36.7 304.5 37.4 308.7 38.0 312.0C38.6 315.3 38.6 319.8 40.0 322.0C41.4 324.2 45.3 324.8 46.4 325.4"/>
<path d="M43.3 268.7C43.1 270.0 42.3 273.6 41.9 276.5C41.5 279.4 41.2 283.1 40.9 286.4C40.6 289.6 40.5 292.7 40.0 296.0C39.5 299.3 38.3 304.3 38.0 306.0"/>
<path d="M141.5 189.7C141.5 190.5 141.4 193.2 141.8 194.6C142.2 196.1 142.6 197.1 144.0 198.2C145.3 199.3 146.6 199.8 149.7 201.2C152.9 202.6 157.9 204.5 162.8 206.5C167.8 208.4 173.8 210.8 179.3 212.7C184.7 214.6 190.2 216.1 195.7 217.6C201.2 219.1 206.6 220.4 212.1 221.7C217.6 223.0 223.0 224.2 228.5 225.3C234.0 226.5 242.2 228.1 244.9 228.6"/>
<path d="M156.3 188.1C157.4 189.0 160.7 192.0 162.8 193.8C165.0 195.6 167.4 197.4 169.4 198.7C171.5 200.1 174.2 201.5 175.2 202.0" style="stroke-width:1.8"/>
<path d="M160.4 193.0C161.2 193.9 163.7 197.0 165.3 198.7C166.9 200.5 168.6 201.9 170.2 203.7C171.9 205.4 174.3 208.5 175.2 209.4"/>
<path d="M165.3 200.4C166.3 201.2 169.0 203.7 171.1 205.3C173.1 206.9 176.5 209.4 177.6 210.2"/>
<path d="M178.4 203.7C181.3 203.9 190.1 204.3 195.7 205.3C201.3 206.3 206.6 207.9 212.1 209.4C217.6 210.9 223.0 212.6 228.5 214.3C234.0 216.1 240.6 218.2 244.9 220.1C249.3 222.0 251.8 224.0 254.8 225.8C257.8 227.7 261.6 230.2 263.0 231.1"/>
<path d="M179.3 205.8C182.0 206.3 190.2 207.4 195.7 208.6C201.2 209.7 206.6 211.1 212.1 212.7C217.6 214.3 223.3 216.2 228.5 217.9C233.7 219.7 239.5 221.6 243.3 223.4C247.1 225.1 250.1 227.5 251.5 228.3"/>
<path d="M179.3 207.4C181.5 208.0 188.8 209.9 192.4 211.1C196.0 212.2 197.9 212.7 200.6 214.3C203.3 216.0 207.4 219.8 208.8 220.9"/>
<path d="M205.5 211.9C207.2 212.1 212.6 212.4 215.4 213.0C218.1 213.6 220.9 215.1 222.0 215.5"/>
<path d="M231.8 216.8C233.4 217.1 238.9 217.5 241.7 218.4C244.4 219.4 247.1 221.9 248.2 222.5"/>
<path d="M489.4 181.4L492.2 176.7L496.5 171.4L504.6 170.4L506.2 173.0L503.9 176.1L499.0 181.1Z"/>
<path d="M493.1 176.1L499.0 174.8L502.1 172.4"/>
<path d="M496.5 179.2L501.5 177.9L504.6 174.8"/>
<path d="M415.6 223.4L418.7 217.5L423.6 210.7L425.5 209.4L434.1 209.4L435.3 213.2L432.2 217.5L426.1 223.4Z"/>
<path d="M420.5 216.2L426.1 214.4L429.2 211.3L432.2 210.7"/>
<path d="M423.6 221.2L428.5 220.0L431.6 216.2"/>
<path d="M355.5 159.9C356.2 158.4 358.4 153.9 360.0 151.0C361.6 148.1 363.7 144.9 365.4 142.6C367.1 140.3 368.0 139.2 370.0 137.0C372.0 134.8 374.7 132.3 377.4 129.6C380.1 126.9 383.2 123.3 386.1 120.9C389.0 118.5 391.2 117.4 394.7 115.3C398.2 113.2 403.0 110.5 407.1 108.5C411.2 106.5 415.3 105.1 419.4 103.6C423.5 102.1 427.7 100.6 431.8 99.3C435.9 98.0 440.8 96.9 444.2 95.8C447.6 94.7 449.8 93.7 452.4 92.8C455.0 91.9 458.7 90.6 460.0 90.2"/>
<circle cx="467.8" cy="437" r="5.1" fill="none" stroke="#000" stroke-width="1.5" shape-rendering="crispEdges"/><circle cx="467.6" cy="437" r="2" fill="none" stroke="#000" stroke-width="1.1" shape-rendering="crispEdges"/><filter id="crisp" x="0" y="0" width="975" height="566" filterUnits="userSpaceOnUse" color-interpolation-filters="sRGB"><feComponentTransfer><feFuncA type="discrete" tableValues="0 1"/></feComponentTransfer></filter><g filter="url(#crisp)" font-family="'Liberation Sans','DejaVu Sans',sans-serif" fill="#000" stroke="#000" stroke-width="0.1" text-rendering="geometricPrecision"><text><tspan x="807.45" y="154.48" font-size="11.55" textLength="45.44" lengthAdjust="spacingAndGlyphs" letter-spacing="1.15">82872</tspan> <tspan x="854.07" y="152.75" font-size="8.82" textLength="4.61" lengthAdjust="spacingAndGlyphs">(</tspan><tspan x="860.10" y="154.60" font-size="11.88" textLength="19.31" lengthAdjust="spacingAndGlyphs" letter-spacing="1.66">RH</tspan><tspan x="879.36" y="152.75" font-size="8.82" textLength="4.61" lengthAdjust="spacingAndGlyphs">)</tspan></text>
<text><tspan x="807.45" y="165.48" font-size="11.55" textLength="45.30" lengthAdjust="spacingAndGlyphs" letter-spacing="1.15">82873</tspan> <tspan x="854.07" y="163.75" font-size="8.82" textLength="4.61" lengthAdjust="spacingAndGlyphs">(</tspan><tspan x="859.99" y="165.60" font-size="11.88" textLength="19.67" lengthAdjust="spacingAndGlyphs" letter-spacing="1.66">LH</tspan><tspan x="879.36" y="163.75" font-size="8.82" textLength="4.61" lengthAdjust="spacingAndGlyphs">)</tspan></text>
<text><tspan x="855.09" y="293.48" font-size="11.55" textLength="54.18" lengthAdjust="spacingAndGlyphs" letter-spacing="1.15">82872M</tspan> <tspan x="911.97" y="291.75" font-size="8.82" textLength="4.61" lengthAdjust="spacingAndGlyphs">(</tspan><tspan x="918.00" y="293.60" font-size="11.88" textLength="19.31" lengthAdjust="spacingAndGlyphs" letter-spacing="1.66">RH</tspan><tspan x="937.26" y="291.75" font-size="8.82" textLength="4.61" lengthAdjust="spacingAndGlyphs">)</tspan></text>
<text><tspan x="855.09" y="305.48" font-size="11.55" textLength="54.18" lengthAdjust="spacingAndGlyphs" letter-spacing="1.15">82873M</tspan> <tspan x="911.97" y="303.75" font-size="8.82" textLength="4.61" lengthAdjust="spacingAndGlyphs">(</tspan><tspan x="917.89" y="305.60" font-size="11.88" textLength="19.67" lengthAdjust="spacingAndGlyphs" letter-spacing="1.66">LH</tspan><tspan x="937.26" y="303.75" font-size="8.82" textLength="4.61" lengthAdjust="spacingAndGlyphs">)</tspan></text>
<text><tspan x="536.47" y="313.48" font-size="11.55" textLength="43.74" lengthAdjust="spacingAndGlyphs" letter-spacing="1.15">80872</tspan> <tspan x="583.67" y="311.75" font-size="8.82" textLength="4.61" lengthAdjust="spacingAndGlyphs">(</tspan><tspan x="589.70" y="313.60" font-size="11.88" textLength="19.31" lengthAdjust="spacingAndGlyphs" letter-spacing="1.66">RH</tspan><tspan x="608.96" y="311.75" font-size="8.82" textLength="4.61" lengthAdjust="spacingAndGlyphs">)</tspan></text>
<text><tspan x="536.47" y="324.48" font-size="11.55" textLength="43.60" lengthAdjust="spacingAndGlyphs" letter-spacing="1.15">80873</tspan> <tspan x="583.67" y="322.75" font-size="8.82" textLength="4.61" lengthAdjust="spacingAndGlyphs">(</tspan><tspan x="589.59" y="324.60" font-size="11.88" textLength="19.67" lengthAdjust="spacingAndGlyphs" letter-spacing="1.66">LH</tspan><tspan x="608.96" y="322.75" font-size="8.82" textLength="4.61" lengthAdjust="spacingAndGlyphs">)</tspan></text>
<text><tspan x="653.19" y="407.48" font-size="11.55" textLength="53.65" lengthAdjust="spacingAndGlyphs" letter-spacing="1.15">80872M</tspan> <tspan x="706.97" y="405.75" font-size="8.82" textLength="4.61" lengthAdjust="spacingAndGlyphs">(</tspan><tspan x="713.00" y="407.60" font-size="11.88" textLength="19.31" lengthAdjust="spacingAndGlyphs" letter-spacing="1.66">RH</tspan><tspan x="732.26" y="405.75" font-size="8.82" textLength="4.61" lengthAdjust="spacingAndGlyphs">)</tspan></text>
<text><tspan x="653.19" y="418.48" font-size="11.55" textLength="53.65" lengthAdjust="spacingAndGlyphs" letter-spacing="1.15">80873M</tspan> <tspan x="706.97" y="416.75" font-size="8.82" textLength="4.61" lengthAdjust="spacingAndGlyphs">(</tspan><tspan x="712.89" y="418.60" font-size="11.88" textLength="19.67" lengthAdjust="spacingAndGlyphs" letter-spacing="1.66">LH</tspan><tspan x="732.26" y="416.75" font-size="8.82" textLength="4.61" lengthAdjust="spacingAndGlyphs">)</tspan></text>
<text><tspan x="304.91" y="497.48" font-size="11.55" textLength="45.34" lengthAdjust="spacingAndGlyphs" letter-spacing="1.15">63865</tspan> <tspan x="352.97" y="495.75" font-size="8.82" textLength="4.61" lengthAdjust="spacingAndGlyphs">(</tspan><tspan x="359.00" y="497.60" font-size="11.88" textLength="19.31" lengthAdjust="spacingAndGlyphs" letter-spacing="1.66">RH</tspan><tspan x="378.26" y="495.75" font-size="8.82" textLength="4.61" lengthAdjust="spacingAndGlyphs">)</tspan></text>
<text><tspan x="304.91" y="508.48" font-size="11.55" textLength="45.34" lengthAdjust="spacingAndGlyphs" letter-spacing="1.15">63866</tspan> <tspan x="352.97" y="506.75" font-size="8.82" textLength="4.61" lengthAdjust="spacingAndGlyphs">(</tspan><tspan x="358.89" y="508.60" font-size="11.88" textLength="19.67" lengthAdjust="spacingAndGlyphs" letter-spacing="1.66">LH</tspan><tspan x="378.26" y="506.75" font-size="8.82" textLength="4.61" lengthAdjust="spacingAndGlyphs">)</tspan></text>
<text><tspan x="383.40" y="442.87" font-size="12.68" textLength="48.91" lengthAdjust="spacingAndGlyphs" letter-spacing="1.27">76071B</tspan></text>
<text><tspan x="884.47" y="521.83" font-size="17.32" textLength="86.89" lengthAdjust="spacingAndGlyphs" letter-spacing="1.28">R7660035</tspan></text></g>
</svg>

</body></html>
